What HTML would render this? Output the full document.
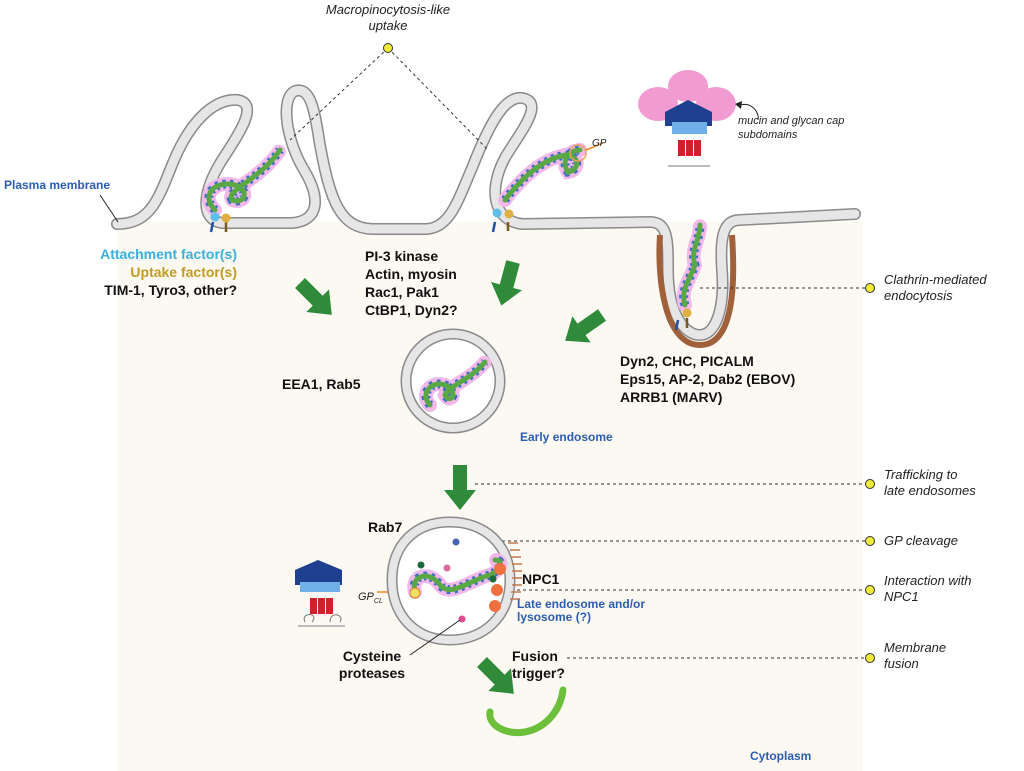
<!DOCTYPE html>
<html><head><meta charset="utf-8"><style>
html,body{margin:0;padding:0;background:#fff}
svg{display:block}
text{font-family:"Liberation Sans",Arial,sans-serif}
.b{font-weight:bold;font-size:14px;fill:#111}
.i{font-style:italic;font-size:13px;fill:#222}
.bl{font-weight:bold;fill:#2a5db0;font-size:12px}
.d{stroke:#333;stroke-width:1;stroke-dasharray:3,3;fill:none}
.dot{fill:#f0ea3a;stroke:#333;stroke-width:1}
.mem{fill:none;stroke:#8a8a8a;stroke-width:12;stroke-linecap:round;stroke-linejoin:round}
.mem2{fill:none;stroke:#e6e6e6;stroke-width:9;stroke-linecap:round;stroke-linejoin:round}
.vir{fill:none;stroke:#f2b8ea;stroke-width:14;stroke-dasharray:2,3;stroke-linecap:round}
.vir2{fill:none;stroke:#3d6fc4;stroke-width:9;stroke-dasharray:3,4}
.vir3{fill:none;stroke:#5aa845;stroke-width:5;stroke-linecap:round}
</style></head><body>
<svg width="1024" height="771" viewBox="0 0 1024 771">
<defs>
<g id="arr"><polygon points="-7,0 7,0 7,25 16,25 0,45 -16,25 -7,25" fill="#2f8a3a"/></g>
</defs>
<rect x="118" y="222" width="745" height="549" fill="#fcf8f2"/>
<g>
<path d="M117,224 C150,224 158,200 172,165 C188,125 212,98 238,100 C258,104 242,130 222,160 C202,192 200,220 222,223 L292,223 C318,221 322,200 304,170 C286,140 280,98 295,91 C312,86 315,115 320,145 C330,200 340,228 372,229 L425,229 C450,229 458,200 472,168 C490,122 505,96 522,98 C545,102 522,130 506,156 C488,188 492,220 522,224 L650,222 C668,222 668,240 668,270 C668,315 685,335 700,335 C715,335 725,310 722,270 C720,240 722,220 740,220 L855,214" class="mem"/>
<path d="M117,224 C150,224 158,200 172,165 C188,125 212,98 238,100 C258,104 242,130 222,160 C202,192 200,220 222,223 L292,223 C318,221 322,200 304,170 C286,140 280,98 295,91 C312,86 315,115 320,145 C330,200 340,228 372,229 L425,229 C450,229 458,200 472,168 C490,122 505,96 522,98 C545,102 522,130 506,156 C488,188 492,220 522,224 L650,222 C668,222 668,240 668,270 C668,315 685,335 700,335 C715,335 725,310 722,270 C720,240 722,220 740,220 L855,214" class="mem2"/>
<path d="M660,235 C657,280 665,345 700,345 C735,345 735,280 732,235" fill="none" stroke="#a0603a" stroke-width="6"/>
</g>
<g>
<path d="M215,210 C200,195 215,180 235,185 C250,190 245,205 232,200 C225,190 260,180 280,150" class="vir"/>
<path d="M215,210 C200,195 215,180 235,185 C250,190 245,205 232,200 C225,190 260,180 280,150" class="vir2"/>
<path d="M215,210 C200,195 215,180 235,185 C250,190 245,205 232,200 C225,190 260,180 280,150" class="vir3"/>
<path d="M505,200 C520,180 540,160 565,155 C580,155 580,170 568,172 C560,160 570,150 580,150" class="vir"/>
<path d="M505,200 C520,180 540,160 565,155 C580,155 580,170 568,172 C560,160 570,150 580,150" class="vir2"/>
<path d="M505,200 C520,180 540,160 565,155 C580,155 580,170 568,172 C560,160 570,150 580,150" class="vir3"/>
<path d="M685,305 C680,290 690,280 695,265 C690,250 700,240 700,225" class="vir"/>
<path d="M685,305 C680,290 690,280 695,265 C690,250 700,240 700,225" class="vir2"/>
<path d="M685,305 C680,290 690,280 695,265 C690,250 700,240 700,225" class="vir3"/>
<circle cx="578" cy="153" r="8" fill="none" stroke="#f0a060" stroke-width="1.5"/>
<line x1="586" y1="150" x2="603" y2="143" stroke="#f08a20" stroke-width="1.5"/>
<line x1="213" y1="222" x2="211" y2="232" stroke="#2050a0" stroke-width="2.5"/><circle cx="215" cy="217" r="4.5" fill="#5ec0e8"/>
<line x1="226" y1="222" x2="226" y2="232" stroke="#7a5a20" stroke-width="2.5"/><circle cx="226" cy="218" r="4.5" fill="#e0b040"/>
<line x1="495" y1="222" x2="493" y2="232" stroke="#2050a0" stroke-width="2.5"/><circle cx="497" cy="213" r="4.5" fill="#5ec0e8"/>
<line x1="508" y1="222" x2="508" y2="231" stroke="#7a5a20" stroke-width="2.5"/><circle cx="509" cy="214" r="4.5" fill="#e0b040"/>
<line x1="678" y1="320" x2="676" y2="330" stroke="#2050a0" stroke-width="2.5"/><line x1="687" y1="318" x2="687" y2="328" stroke="#7a5a20" stroke-width="2.5"/><circle cx="687" cy="313" r="4.5" fill="#e0b040"/>
</g>
<g>
<ellipse cx="658" cy="104" rx="20" ry="17" fill="#f29ad2"/>
<ellipse cx="716" cy="104" rx="20" ry="17" fill="#f29ad2"/>
<ellipse cx="688" cy="86" rx="20" ry="16" fill="#f29ad2"/>
<polygon points="665,112 688,100 712,112 712,126 665,126" fill="#1f3f8f"/>
<rect x="672" y="122" width="35" height="12" fill="#6fb0e8"/>
<rect x="678" y="140" width="7" height="16" fill="#d0202a"/><rect x="686" y="140" width="7" height="16" fill="#d0202a"/><rect x="694" y="140" width="7" height="16" fill="#d0202a"/>
<line x1="668" y1="166" x2="710" y2="166" stroke="#bbb" stroke-width="2"/>
<path d="M738,106 C750,100 760,112 758,120" fill="none" stroke="#222"/><polygon points="735,104 742,101 741,109" fill="#222"/>
</g>
<g>
<polygon points="295,570 318,560 342,570 342,585 295,585" fill="#1f3f8f"/>
<rect x="300" y="582" width="40" height="10" fill="#6fb0e8"/>
<rect x="310" y="598" width="7" height="16" fill="#d0202a"/><rect x="318" y="598" width="7" height="16" fill="#d0202a"/><rect x="326" y="598" width="7" height="16" fill="#d0202a"/>
<line x1="298" y1="626" x2="345" y2="626" stroke="#bbb" stroke-width="2"/>
<path d="M305,622 C300,612 320,612 312,622 M330,622 C330,610 345,615 340,622" fill="none" stroke="#777"/>
<line x1="377" y1="592" x2="410" y2="592" stroke="#f08a20" stroke-width="1.5"/>
</g>
<line class="d" x1="388" y1="48" x2="290" y2="140"/>
<line class="d" x1="388" y1="48" x2="488" y2="150"/>
<line class="d" x1="700" y1="288" x2="866" y2="288"/>
<line class="d" x1="475" y1="484" x2="866" y2="484"/>
<line class="d" x1="460" y1="541" x2="866" y2="541"/>
<line class="d" x1="505" y1="590" x2="866" y2="590"/>
<line class="d" x1="567" y1="658" x2="866" y2="658"/>
<circle class="dot" cx="388" cy="48" r="4.5"/>
<circle class="dot" cx="870" cy="288" r="4.5"/>
<circle class="dot" cx="870" cy="484" r="4.5"/>
<circle class="dot" cx="870" cy="541" r="4.5"/>
<circle class="dot" cx="870" cy="590" r="4.5"/>
<circle class="dot" cx="870" cy="658" r="4.5"/>
<line x1="100" y1="195" x2="118" y2="222" stroke="#222"/>
<use href="#arr" transform="translate(300,283) rotate(-45)"/>
<use href="#arr" transform="translate(513,262) rotate(15)"/>
<use href="#arr" transform="translate(602,315) rotate(55)"/>
<use href="#arr" transform="translate(460,465)"/>
<use href="#arr" transform="translate(482,662) rotate(-45)"/>
<circle cx="453" cy="381" r="47" fill="#fff" stroke="#8a8a8a" stroke-width="11"/>
<circle cx="453" cy="381" r="47" fill="none" stroke="#e6e6e6" stroke-width="8"/>
<path d="M430,405 C420,395 430,380 445,385 C460,392 450,405 445,395 C450,385 470,380 485,362" class="vir"/>
<path d="M430,405 C420,395 430,380 445,385 C460,392 450,405 445,395 C450,385 470,380 485,362" class="vir2"/>
<path d="M430,405 C420,395 430,380 445,385 C460,392 450,405 445,395 C450,385 470,380 485,362" class="vir3"/>
<path d="M450,522 C485,522 510,545 510,580 C510,615 485,640 450,640 C415,640 392,615 392,580 C392,545 415,522 450,522Z" fill="#fff" stroke="#8a8a8a" stroke-width="11"/>
<path d="M450,522 C485,522 510,545 510,580 C510,615 485,640 450,640 C415,640 392,615 392,580 C392,545 415,522 450,522Z" fill="none" stroke="#e6e6e6" stroke-width="8"/>
<g stroke="#c07850" stroke-width="1.5" fill="none">
<path d="M508,543 h10 M510,550 h10 M511,557 h10 M512,564 h10 M512,571 h10 M512,578 h10 M512,585 h10 M511,592 h10 M510,599 h10"/>
</g>
<path d="M415,592 C410,575 430,570 440,585 C450,598 470,580 490,575 C500,570 505,560 495,560" class="vir"/>
<path d="M415,592 C410,575 430,570 440,585 C450,598 470,580 490,575 C500,570 505,560 495,560" class="vir2"/>
<path d="M415,592 C410,575 430,570 440,585 C450,598 470,580 490,575 C500,570 505,560 495,560" class="vir3"/>
<circle cx="415" cy="593" r="5" fill="#f0e060" stroke="#e08030"/>
<circle cx="500" cy="569" r="6" fill="#f07040"/><circle cx="497" cy="590" r="6" fill="#f07040"/><circle cx="495" cy="606" r="6" fill="#f07040"/>
<circle cx="456" cy="542" r="3.5" fill="#4a60b0"/><circle cx="421" cy="565" r="3.5" fill="#1a6a3a"/><circle cx="447" cy="568" r="3.5" fill="#e06aa0"/><circle cx="493" cy="579" r="3.5" fill="#1a6a3a"/><circle cx="462" cy="619" r="3.5" fill="#e04a90"/>
<line x1="410" y1="655" x2="460" y2="620" stroke="#222"/>
<path d="M490,712 C488,725 505,735 525,732 C545,728 560,712 563,690" fill="none" stroke="#6cbf3a" stroke-width="7" stroke-linecap="round"/>
<text class="i" x="388" y="14" text-anchor="middle">Macropinocytosis-like</text>
<text class="i" x="388" y="30" text-anchor="middle">uptake</text>
<text class="bl" x="4" y="189">Plasma membrane</text>
<text x="237" y="259" text-anchor="end" style="font-weight:bold;font-size:14px;fill:#3ab0dd">Attachment factor(s)</text>
<text x="237" y="277" text-anchor="end" style="font-weight:bold;font-size:14px;fill:#c39a22">Uptake factor(s)</text>
<text class="b" x="237" y="295" text-anchor="end">TIM-1, Tyro3, other?</text>
<text class="b" x="365" y="261">PI-3 kinase</text>
<text class="b" x="365" y="279">Actin, myosin</text>
<text class="b" x="365" y="297">Rac1, Pak1</text>
<text class="b" x="365" y="315">CtBP1, Dyn2?</text>
<text class="b" x="282" y="389">EEA1, Rab5</text>
<text class="bl" x="520" y="441">Early endosome</text>
<text class="b" x="620" y="366">Dyn2, CHC, PICALM</text>
<text class="b" x="620" y="384">Eps15, AP-2, Dab2 (EBOV)</text>
<text class="b" x="620" y="402">ARRB1 (MARV)</text>
<text class="b" x="368" y="532">Rab7</text>
<text class="b" x="522" y="584">NPC1</text>
<text class="bl" x="517" y="608">Late endosome and/or</text>
<text class="bl" x="517" y="621">lysosome (?)</text>
<text class="b" x="372" y="661" text-anchor="middle">Cysteine</text>
<text class="b" x="372" y="678" text-anchor="middle">proteases</text>
<text class="b" x="512" y="661">Fusion</text>
<text class="b" x="512" y="678">trigger?</text>
<text class="bl" x="750" y="760">Cytoplasm</text>
<text class="i" x="358" y="600" style="font-size:11px">GP<tspan style="font-size:7px" dy="3">CL</tspan></text>
<text class="i" x="592" y="146" style="font-size:10px">GP</text>
<text class="i" x="738" y="124" style="font-size:11px">mucin and glycan cap</text>
<text class="i" x="738" y="138" style="font-size:11px">subdomains</text>
<text class="i" x="884" y="284">Clathrin-mediated</text>
<text class="i" x="884" y="300">endocytosis</text>
<text class="i" x="884" y="479">Trafficking to</text>
<text class="i" x="884" y="495">late endosomes</text>
<text class="i" x="884" y="545">GP cleavage</text>
<text class="i" x="884" y="585">Interaction with</text>
<text class="i" x="884" y="601">NPC1</text>
<text class="i" x="884" y="652">Membrane</text>
<text class="i" x="884" y="668">fusion</text>
</svg>
</body></html>
